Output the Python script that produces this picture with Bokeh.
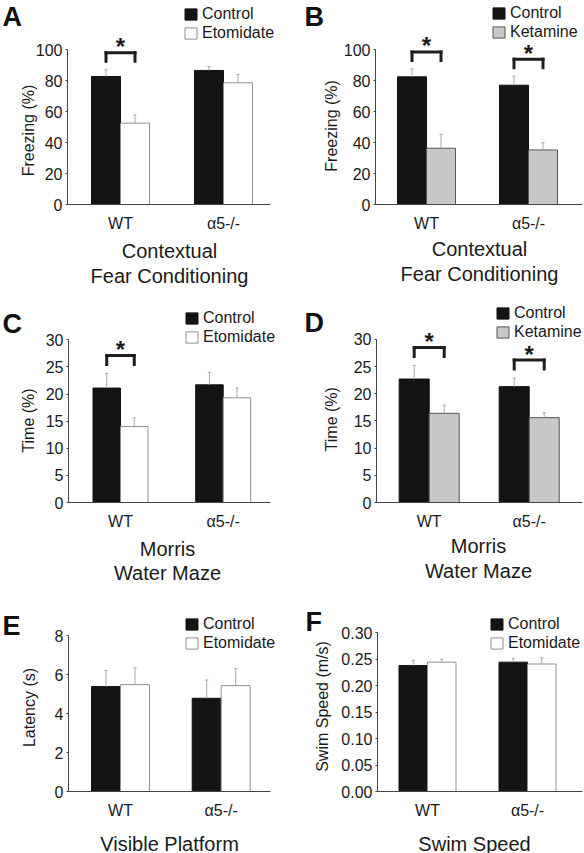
import math
from bokeh.plotting import figure
from bokeh.models import (ColumnDataSource, Range1d, Legend, LegendItem,
                          FixedTicker, NumeralTickFormatter)
from bokeh.core.properties import value
from bokeh.layouts import column, row
from bokeh.embed import file_html
from bokeh.resources import INLINE

FONT = "Liberation Sans"
INK = "#1a1a1a"

groups = ["WT", "α5-/-"]

# A: Contextual fear conditioning, etomidate
a_control = [82.6, 86.5]
a_control_sem = [4.3, 2.5]
a_drug = [52.5, 78.5]
a_drug_sem = [5.3, 5.4]
a_sig = [True, False]

# B: Contextual fear conditioning, ketamine
b_control = [82.4, 77.0]
b_control_sem = [5.1, 5.8]
b_drug = [36.3, 35.2]
b_drug_sem = [9.0, 4.7]
b_sig = [True, True]

# C: Morris water maze, etomidate
c_control = [21.1, 21.7]
c_control_sem = [2.7, 2.3]
c_drug = [14.0, 19.3]
c_drug_sem = [1.6, 1.8]
c_sig = [True, False]

# D: Morris water maze, ketamine
d_control = [22.7, 21.3]
d_control_sem = [2.5, 1.6]
d_drug = [16.4, 15.6]
d_drug_sem = [1.5, 0.9]
d_sig = [True, True]

# E: Visible platform latency, etomidate
e_control = [5.38, 4.78]
e_control_sem = [0.82, 0.94]
e_drug = [5.48, 5.43]
e_drug_sem = [0.86, 0.87]
e_sig = [False, False]

# F: Swim speed, etomidate
f_control = [0.238, 0.2445]
f_control_sem = [0.010, 0.007]
f_drug = [0.2445, 0.241]
f_drug_sem = [0.0055, 0.0117]
f_sig = [False, False]


def make_panel(letter, drug_name, ctrl, ctrl_sem, drug, drug_sem, sig,
               y_max, y_step, y_label, title_lines, tick_fmt, g):
    ox, oy, W, H = g["ox"], g["oy"], g["W"], g["H"]
    fl, fr, fb, ytp = g["fl"], g["fr"], g["fb"], g["ytp"]
    c0, c1 = g["cx"]
    S = c1 - c0
    x_start = -(c0 - fl) / S
    x_end = 1 + (fr - c1) / S
    y_top = y_max * (fb - oy) / (fb - ytp)
    ppu = (fb - oy) / y_top  # pixels per y unit

    def X(px):
        return (px - c0) / S

    def Y(py):
        return (fb - py) / ppu

    p = figure(width=W, height=H,
               x_range=Range1d(x_start, x_end), y_range=Range1d(0, y_top),
               output_backend="svg", toolbar_location=None, tools="",
               min_border_left=fl - ox, min_border_right=ox + W - fr,
               min_border_top=0, min_border_bottom=oy + H - fb)
    p.outline_line_color = None
    p.grid.visible = False
    p.background_fill_color = "white"
    p.border_fill_color = "white"

    bw = g["bw"] / S
    off = bw / 2
    cap = 1.6 / S
    idx = list(range(len(groups)))

    src = ColumnDataSource(dict(
        xc=[i - off for i in idx], xd=[i + off for i in idx],
        xc0=[i - off - cap for i in idx], xc1=[i - off + cap for i in idx],
        xd0=[i + off - cap for i in idx], xd1=[i + off + cap for i in idx],
        ctrl=ctrl, ctrl_top=[m + s for m, s in zip(ctrl, ctrl_sem)],
        drug=drug, drug_top=[m + s for m, s in zip(drug, drug_sem)],
    ))

    drug_fill = "white" if drug_name == "Etomidate" else "#c8c8c8"
    drug_line = "#8f8f8f" if drug_name == "Etomidate" else "#555555"

    rc = p.vbar(x="xc", top="ctrl", width=bw, source=src,
                fill_color="#141414", line_color="#111111")
    rd = p.vbar(x="xd", top="drug", width=bw, source=src,
                fill_color=drug_fill, line_color=drug_line)

    # error bars (upper only)
    for xs, x0, x1, m, t in (("xc", "xc0", "xc1", "ctrl", "ctrl_top"),
                             ("xd", "xd0", "xd1", "drug", "drug_top")):
        p.segment(x0=xs, x1=xs, y0=m, y1=t, source=src, line_color="#a8a8a8", line_width=1)
        p.segment(x0=x0, x1=x1, y0=t, y1=t, source=src, line_color="#a8a8a8", line_width=1)

    # significance brackets
    bx0, bx1, bxc, legs, tops = [], [], [], [], []
    for i, s, c, cs, d, ds in zip(idx, sig, ctrl, ctrl_sem, drug, drug_sem):
        if s:
            leg = max(c + cs, d + ds) + 0.055 * y_max
            bx0.append(i - off)
            bx1.append(i + off)
            bxc.append(i)
            legs.append(leg)
            tops.append(leg + 0.055 * y_max)
    if bxc:
        bsrc = ColumnDataSource(dict(x0=bx0, x1=bx1, xc=bxc, leg=legs, top=tops,
                                     star_y=[t + 6 / ppu for t in tops],
                                     star=["*"] * len(bxc)))
        kw = dict(source=bsrc, line_color="#1e1e1e", line_width=3, line_cap="square")
        p.segment(x0="x0", x1="x1", y0="top", y1="top", **kw)
        p.segment(x0="x0", x1="x0", y0="leg", y1="top", **kw)
        p.segment(x0="x1", x1="x1", y0="leg", y1="top", **kw)
        p.text(x="xc", y="star_y", text="star", source=bsrc, level="overlay",
               text_align="center", text_baseline="alphabetic",
               text_font=value(FONT), text_font_style="bold",
               text_font_size="24px", text_color=INK)

    # legend
    sqx, sqy = g["leg"]
    legend = Legend(items=[LegendItem(label="Control", renderers=[rc]),
                           LegendItem(label=drug_name, renderers=[rd])],
                    location=(sqx - fl, fb - (sqy + 5)), orientation="vertical")
    legend.glyph_width = 15
    legend.glyph_height = 14
    legend.label_height = 14
    legend.label_standoff = 4
    legend.spacing = 1
    legend.padding = 0
    legend.margin = 0
    legend.border_line_color = None
    legend.background_fill_alpha = 0
    legend.label_text_font = FONT
    legend.label_text_font_size = "16px"
    legend.label_text_color = INK
    legend.label_text_baseline = "middle"
    p.add_layout(legend)

    # axes
    ya = p.yaxis[0]
    n = int(round(y_max / y_step))
    ya.ticker = FixedTicker(ticks=[round(i * y_step, 6) for i in range(n + 1)])
    ya.bounds = (0, y_max)
    if tick_fmt:
        ya.formatter = NumeralTickFormatter(format=tick_fmt)
    ya.axis_line_color = "#444444"
    ya.major_tick_line_color = "#444444"
    ya.major_tick_out = 2
    ya.major_tick_in = 0
    ya.minor_tick_line_color = None
    ya.major_label_standoff = 3
    ya.major_label_text_font = FONT
    ya.major_label_text_font_size = "16px"
    ya.major_label_text_color = INK

    xa = p.xaxis[0]
    xa.ticker = FixedTicker(ticks=idx)
    xa.major_label_overrides = {i: gname for i, gname in zip(idx, groups)}
    xa.bounds = (x_start, X(g["ax_end"]))
    xa.axis_line_color = "#444444"
    xa.major_tick_line_color = None
    xa.minor_tick_line_color = None
    xa.major_tick_out = 0
    xa.major_tick_in = 0
    xa.major_label_standoff = 10
    xa.major_label_text_font = FONT
    xa.major_label_text_font_size = "16px"
    xa.major_label_text_color = INK

    # y-axis title (rotated), centred on the 0..y_max span
    yx, yy = g["ylab"]
    p.text(x=[X(yx)], y=[Y(yy)], text=[y_label], angle=math.pi / 2, level="overlay",
           text_font=value(FONT), text_font_size="16px", text_color=INK,
           text_align="center", text_baseline="middle")

    # panel letter (left edge, vertical centre)
    lx, ly = g["letter"]
    p.text(x=[X(lx)], y=[Y(ly)], text=[letter], level="overlay",
           text_font=value(FONT), text_font_style="bold", text_font_size="27px",
           text_color="#111111", text_baseline="middle", text_align="left")

    # panel title below
    tx, tys = g["titles"]
    p.text(x=[X(tx)] * len(tys), y=[Y(t) for t in tys], text=title_lines, level="overlay",
           text_font=value(FONT), text_font_size="20px", text_color=INK,
           text_align="center", text_baseline="middle")
    return p


gA = dict(ox=0, oy=0, W=292, H=290, fl=67, fr=284, fb=204, ytp=49, cx=(120, 223),
          ax_end=270, bw=29, leg=(183, 37), letter=(2, 16.5), titles=(169, [250, 275]),
          ylab=(28, 130))
gB = dict(ox=292, oy=0, W=292, H=290, fl=375, fr=584, fb=205, ytp=49.3, cx=(426, 528),
          ax_end=582, bw=29, leg=(491, 37), letter=(304, 16.5), titles=(479, [250, 275]),
          ylab=(331, 126))
gC = dict(ox=0, oy=290, W=292, H=295, fl=68, fr=284, fb=502, ytp=339.3, cx=(120, 222.7),
          ax_end=270, bw=27.5, leg=(184, 341), letter=(2, 323.5), titles=(167, [548, 572]),
          ylab=(27.5, 420))
gD = dict(ox=292, oy=290, W=292, H=295, fl=376, fr=584, fb=504, ytp=339.3, cx=(428.7, 528.7),
          ax_end=582, bw=30, leg=(495, 338), letter=(304, 323), titles=(478, [548, 573]),
          ylab=(331, 420))
gE = dict(ox=0, oy=585, W=292, H=268, fl=68, fr=284, fb=791, ytp=635, cx=(120, 220.7),
          ax_end=270, bw=29, leg=(184, 647), letter=(2, 625.5), titles=(169, [843]),
          ylab=(28.5, 707))
gF = dict(ox=292, oy=585, W=292, H=268, fl=377, fr=584, fb=791, ytp=632.3, cx=(427, 527),
          ax_end=582, bw=28.5, leg=(489, 647), letter=(305, 621.5), titles=(474, [843]),
          ylab=(322, 706))

pA = make_panel("A", "Etomidate", a_control, a_control_sem, a_drug, a_drug_sem, a_sig,
                100, 20, "Freezing (%)", ["Contextual", "Fear Conditioning"], None, gA)
pB = make_panel("B", "Ketamine", b_control, b_control_sem, b_drug, b_drug_sem, b_sig,
                100, 20, "Freezing (%)", ["Contextual", "Fear Conditioning"], None, gB)
pC = make_panel("C", "Etomidate", c_control, c_control_sem, c_drug, c_drug_sem, c_sig,
                30, 5, "Time (%)", ["Morris", "Water Maze"], None, gC)
pD = make_panel("D", "Ketamine", d_control, d_control_sem, d_drug, d_drug_sem, d_sig,
                30, 5, "Time (%)", ["Morris", "Water Maze"], None, gD)
pE = make_panel("E", "Etomidate", e_control, e_control_sem, e_drug, e_drug_sem, e_sig,
                8, 2, "Latency (s)", ["Visible Platform"], None, gE)
pF = make_panel("F", "Etomidate", f_control, f_control_sem, f_drug, f_drug_sem, f_sig,
                0.30, 0.05, "Swim Speed (m/s)", ["Swim Speed"], "0.00", gF)

layout = column(row(pA, pB), row(pC, pD), row(pE, pF))

with open("out.html", "w") as f:
    f.write(file_html(layout, INLINE, "Figure"))
